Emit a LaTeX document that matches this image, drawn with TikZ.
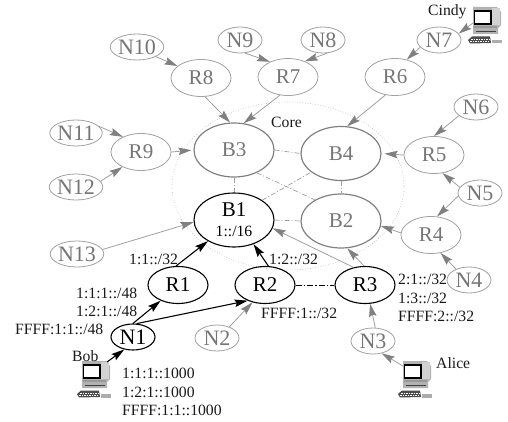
\documentclass[tikz,border=0pt]{standalone}
\usepackage{fontspec}
\setmainfont{Liberation Serif}
\usetikzlibrary{shapes.geometric,arrows.meta}
\definecolor{gtext}{HTML}{757575}
\definecolor{gline}{HTML}{A0A0A0}
\definecolor{gtip}{HTML}{808080}
\tikzset{
  x=1pt,y=-1pt,
  bignode/.style={ellipse,inner sep=0pt,minimum width=80pt,minimum height=54pt,font=\fontsize{21}{21}\selectfont},
  midnode/.style={ellipse,inner sep=0pt,minimum width=60pt,minimum height=37pt,font=\fontsize{21}{21}\selectfont},
  smallnode/.style={ellipse,inner sep=0pt,minimum width=44pt,minimum height=26pt,font=\fontsize{22}{22}\selectfont},
  active/.style={draw=black,line width=1.1pt,text=black},
  passive/.style={draw=gline,line width=0.8pt,text=gtext},
  corepassive/.style={draw=gtip,line width=1.2pt,text=gtext},
  garrow/.style={draw=gline,line width=0.8pt,-{Stealth[length=13pt,width=7.5pt,inset=2pt,color=gtip]}},
  barrow/.style={draw=black,line width=1.1pt,-{Stealth[length=13pt,width=7.5pt,inset=2pt]}},
  glink/.style={draw=gline,line width=0.7pt,dash pattern=on 5pt off 2pt on 1pt off 2pt},
  blink/.style={draw=black,line width=0.9pt,dash pattern=on 6pt off 2pt on 1.5pt off 2pt},
  lbl/.style={inner sep=0pt,anchor=west,font=\fontsize{15.7}{18}\selectfont,text=black!90},
  computer/.pic={
    \fill[gray!60] (0,0) -- (24,0) -- (28,5) -- (28,18) -- (25,21) -- (25,27) -- (0,27) -- cycle;
    \fill[gray!35] (19,1) rectangle (27,18);
    \draw[black,line width=1.2pt,fill=white] (1.5,4) rectangle (18,17);
    \fill[gray!80] (1,19) rectangle (24,21);
    \draw[black!75,line width=0.7pt] (3,24) -- (23,24);
    \fill[black!70] (-5,33) -- (-1,29.5) -- (17,29.5) -- (18,36) -- (-3,36.5) -- cycle;
    \draw[white,line width=0.4pt,dash pattern=on 1.5pt off 1pt] (-2,32) -- (16,32);
    \draw[white,line width=0.4pt,dash pattern=on 1.5pt off 1pt] (-3,34.5) -- (16,34.5);
    \fill[gray!65] (19,33) rectangle (29,36.5);
  }
}
\begin{document}
\begin{tikzpicture}
\useasboundingbox (0,0) rectangle (508,422);
% core boundary
\node[ellipse,draw=gray!60,dotted,line width=0.6pt,minimum width=232pt,minimum height=168pt,inner sep=0pt] (core) at (288,186) {};
% core routers
\node[bignode,corepassive] (B3) at (234,150) {B3};
\node[bignode,corepassive] (B4) at (341,153.5) {B4};
\node[bignode,corepassive] (B2) at (341,221) {B2};
\node[bignode,active,align=center] (B1) at (234,220) {B1\\[-1pt]{\fontsize{15.7}{15.7}\selectfont 1::/16}};
% routers
\node[midnode,active] (R1) at (178,285) {R1};
\node[midnode,active] (R2) at (265,285) {R2};
\node[midnode,active] (R3) at (365,285) {R3};
\node[midnode,passive] (R4) at (431,235) {R4};
\node[midnode,passive] (R5) at (434,155) {R5};
\node[midnode,passive] (R6) at (395,77) {R6};
\node[midnode,passive] (R7) at (288,77) {R7};
\node[midnode,passive] (R8) at (201,78) {R8};
\node[midnode,passive] (R9) at (141,152) {R9};
% edge networks
\node[smallnode,active] (N1) at (133,337) {N1};
\node[smallnode,passive] (N2) at (217,338) {N2};
\node[smallnode,passive] (N3) at (373,341) {N3};
\node[smallnode,passive] (N4) at (469,280) {N4};
\node[smallnode,passive] (N5) at (480,193) {N5};
\node[smallnode,passive] (N6) at (476,107) {N6};
\node[smallnode,passive] (N7) at (439,40) {N7};
\node[smallnode,passive] (N8) at (323,40) {N8};
\node[smallnode,passive] (N9) at (240,40) {N9};
\node[smallnode,passive] (N10) at (137,47) {N10};
\node[smallnode,passive] (N11) at (76,133) {N11};
\node[smallnode,passive] (N12) at (76,187) {N12};
\node[smallnode,passive] (N13) at (77,254) {N13};
% computers
\pic at (82,361) {computer};
\pic at (403,361) {computer};
\pic at (473,7) {computer};
\coordinate (bobpc) at (107,362);
\coordinate (alicepc) at (403,366);
\coordinate (cindypc) at (473,23);
% core links
\draw[glink] (B3.0) -- (B4.180);
\draw[glink] (B3.-90) -- (B1.90);
\draw[glink] (B1.0) -- (B2.180);
\draw[glink] (B4.-90) -- (B2.90);
\draw[glink] (B3.-45) -- (B2.141);
\draw[glink] (B1.35) -- (B4.212);
\draw[blink] (R2.0) -- (R3.180);
% gray arrows
\draw[garrow] (N10.-27) -- (R8.153);
\draw[garrow] (R8.-78) -- (B3.98);
\draw[garrow] (R7.-114) -- (B3.70);
\draw[garrow] (N9.-69) -- (R7.140);
\draw[garrow] (N8.-72) -- (R7.43);
\draw[garrow] (R6.-118) -- (B4.77);
\draw[garrow] (cindypc) -- (N7.18);
\draw[garrow] (N7.201) -- (R6.56);
\draw[garrow] (N6.207) -- (R5.90);
\draw[garrow] (N5.164) -- (R5.-65);
\draw[garrow] (N5.188) -- (R4.72);
\draw[garrow,shorten >=3pt] (R5.180) -- (B4.0);
\draw[garrow] (R4.176) -- (B2.-7);
\draw[garrow] (N4.140) -- (R4.-62);
\draw[garrow] (R3.93) -- (B2.-77);
\draw[garrow] (R3.123) -- (B1.-12);
\draw[garrow] (N3.80) -- (R3.-75);
\draw[garrow] (alicepc) -- (N3.-55);
\draw[garrow] (N2.42) -- (R2.-126);
\draw[garrow] (N13.10) -- (B1.183);
\draw[garrow,shorten >=2pt] (R9.0) -- (B3.180);
\draw[garrow] (N11.16) -- (R9.140);
\draw[garrow] (N12.13) -- (R9.-141);
% black arrows
\draw[barrow] (bobpc) -- (N1.-125);
\draw[barrow] (N1.90) -- (R1.-138);
\draw[barrow] (N1.75) -- (R2.-138);
\draw[barrow] (R1.96) -- (B1.-141);
\draw[barrow] (R2.80) -- (B1.-51);
% labels
\node[lbl] (core label) at (271,122) {Core};
\node[lbl] (cindy) at (428,12) {Cindy};
\node[lbl] (alice) at (436,363) {Alice};
\node[lbl] (bob) at (72,356) {Bob};
\node[lbl] (l11) at (129,259) {1:1::/32};
\node[lbl] (l12) at (269,259) {1:2::/32};
\node[lbl] (l1) at (76,293) {1:1:1::/48};
\node[lbl] (l2) at (76,311) {1:2:1::/48};
\node[lbl] (l3) at (15,329) {FFFF:1:1::/48};
\node[lbl] (a1) at (122,373) {1:1:1::1000};
\node[lbl] (a2) at (122,392) {1:2:1::1000};
\node[lbl] (a3) at (122,410) {FFFF:1:1::1000};
\node[lbl] (f1) at (261,313) {FFFF:1::/32};
\node[lbl] (r1) at (398,279) {2:1::/32};
\node[lbl] (r2) at (398,298) {1:3::/32};
\node[lbl] (r3) at (398,316) {FFFF:2::/32};
\end{tikzpicture}
\end{document}
